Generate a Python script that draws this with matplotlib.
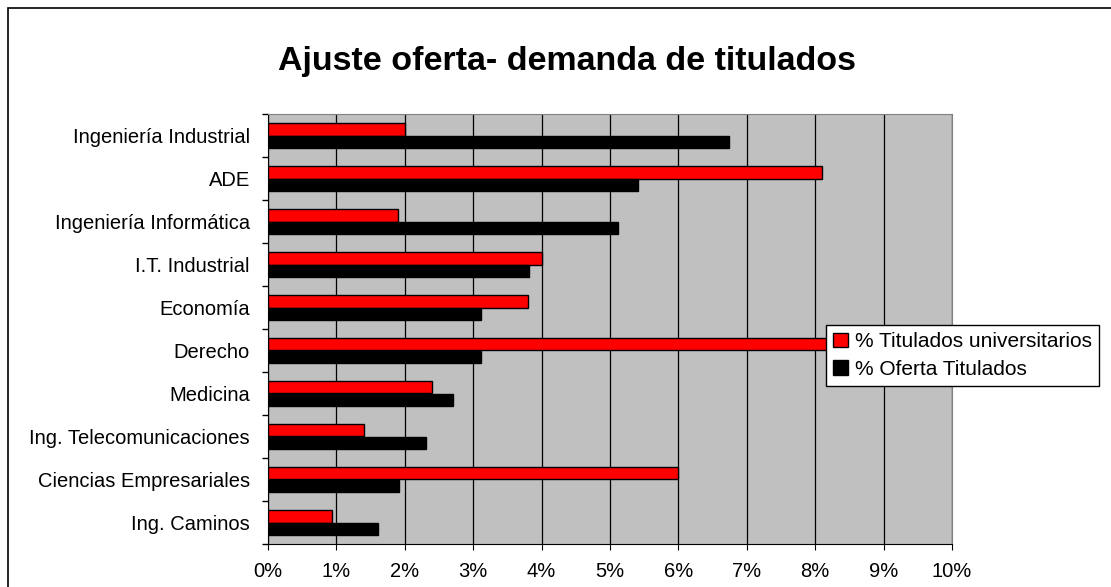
import numpy as np
import matplotlib.pyplot as plt
from matplotlib.patches import Rectangle

plt.rcParams['font.family'] = ['Liberation Sans', 'DejaVu Sans']

carreras = ['Ingeniería Industrial', 'ADE', 'Ingeniería Informática', 'I.T. Industrial',
            'Economía', 'Derecho', 'Medicina', 'Ing. Telecomunicaciones',
            'Ciencias Empresariales', 'Ing. Caminos']
titulados = [2.0, 8.1, 1.9, 4.0, 3.8, 9.5, 2.4, 1.4, 6.0, 0.93]
oferta = [6.74, 5.41, 5.11, 3.81, 3.11, 3.11, 2.71, 2.31, 1.91, 1.61]
xticks = np.arange(0, 11)

fig = plt.figure(figsize=(11.11, 5.87), dpi=100)
ax = fig.add_axes([268 / 1111, 1 - 544 / 587, (952 - 268) / 1111, (544 - 114) / 587])
ax.set_facecolor('#C0C0C0')

y = np.arange(len(carreras))
h = 0.3
ax.barh(y - h / 2, titulados, height=h, color='#FF0000', edgecolor='black', linewidth=1,
        label='% Titulados universitarios', zorder=3)
ax.barh(y + h / 2, oferta, height=h, color='black', edgecolor='black', linewidth=1,
        label='% Oferta Titulados', zorder=3)

ax.set_xlim(0, 10)
ax.set_ylim(len(carreras) - 0.5, -0.5)
ax.set_xticks(xticks)
ax.set_xticklabels([f'{v}%' for v in xticks], fontsize=14.5)
ax.set_yticks(y)
ax.set_yticklabels(carreras, fontsize=14.5)
ax.set_yticks(np.arange(-0.5, len(carreras)), minor=True)
ax.tick_params(axis='y', which='major', length=0, pad=13)
ax.tick_params(axis='y', which='minor', length=4, direction='out', width=1)
ax.tick_params(axis='x', length=4, direction='out', pad=9)
ax.grid(axis='x', color='black', linewidth=0.9, zorder=1)
for s in ['top', 'right']:
    ax.spines[s].set_color('#808080')
for s in ['left', 'bottom']:
    ax.spines[s].set_color('black')

fig.text(567 / 1111, 1 - 70 / 587, 'Ajuste oferta- demanda de titulados', fontsize=24.5,
         fontweight='bold', ha='center', va='baseline')

leg = fig.legend(loc='upper left', bbox_to_anchor=(826 / 1111, 1 - 325 / 587),
                 fontsize=15, frameon=True, fancybox=False, edgecolor='black',
                 framealpha=1, handlelength=0.7, handleheight=0.7, handletextpad=0.35,
                 borderpad=0.35, labelspacing=0.4, borderaxespad=0)
leg.get_frame().set_linewidth(1)

fig.patches.append(Rectangle((8 / 1111, -0.1), 1.2, 1.1 - 8 / 587, transform=fig.transFigure,
                             fill=False, edgecolor='black', linewidth=1.2))

fig.savefig('out.png', dpi=100, facecolor='white')
